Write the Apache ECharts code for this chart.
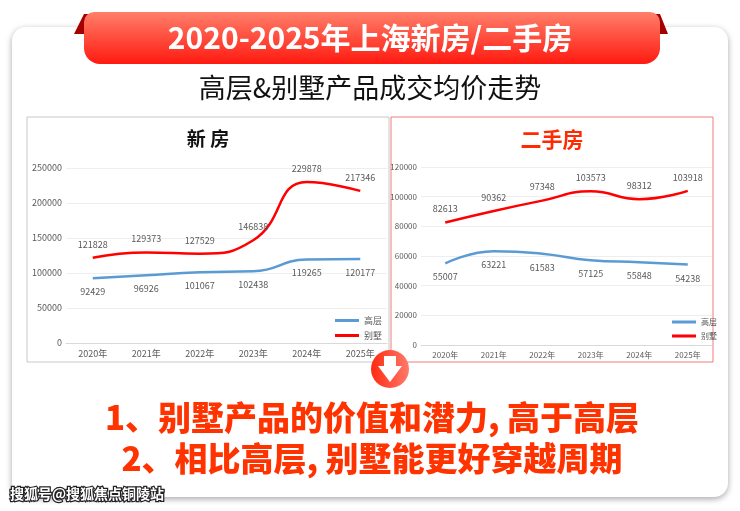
<!DOCTYPE html>
<html><head><meta charset="utf-8">
<script src="https://cdn.jsdelivr.net/npm/echarts@6/dist/echarts.min.js"></script>
<style>html,body{margin:0;padding:0;background:#fff}#c{width:740px;height:511px}</style>
</head><body><div id="c"></div>
<script>
const years = ['2020年','2021年','2022年','2023年','2024年','2025年'];
const newHigh = [92429,96926,101067,102438,119265,120177];
const newVilla = [121828,129373,127529,146838,229878,217346];
const oldHigh = [55007,63221,61583,57125,55848,54238];
const oldVilla = [82613,90362,97348,103573,98312,103918];
const seriesNames = ['高层','别墅'];
const F = 'Noto Sans CJK SC';
const chart = echarts.init(document.getElementById('c'));
const lbl = (pos, off) => ({show:true, position:pos, distance:off, fontSize:9, color:'#595959', fontFamily:F});
const ln = (name, xi, data, color, pos) => ({name, type:'line', xAxisIndex:xi, yAxisIndex:xi, data, smooth:true, symbol:'circle', symbolSize:0.1, showSymbol:true, lineStyle:{width:2.5,color}, itemStyle:{color}, label:lbl(pos,9)});
const plain = v => String(v);
chart.setOption({
  animation:false,
  textStyle:{fontFamily:F},
  graphic:[
    {type:'rect', shape:{x:12,y:27,width:716,height:470,r:14}, style:{fill:'#fff', shadowBlur:6, shadowColor:'rgba(0,0,0,0.35)', shadowOffsetY:2}, z:-10},
    {type:'polygon', shape:{points:[[74,34],[84,14],[96,14],[103,34]]}, style:{fill:'#a30000'}, z:-5},
    {type:'polygon', shape:{points:[[640,34],[647,14],[660,14],[668,34]]}, style:{fill:'#a30000'}, z:-5},
    {type:'rect', shape:{x:84,y:12,width:576,height:52,r:[10,10,16,16]}, style:{fill:new echarts.graphic.LinearGradient(0,0,0,1,[{offset:0,color:'#ff7f6a'},{offset:1,color:'#ff1a10'}])}, z:-4},
    {type:'text', x:370, y:38, style:{text:'2020-2025年上海新房/二手房', fill:'#fff', font:'bold 30px "Noto Sans CJK SC"', align:'center', verticalAlign:'middle'}},
    {type:'text', x:370, y:88, style:{text:'高层&别墅产品成交均价走势', fill:'#111', font:'27px "Noto Sans CJK SC"', align:'center', verticalAlign:'middle'}},
    {type:'rect', shape:{x:27,y:117,width:362,height:245}, style:{fill:'none', stroke:'#c8c8c8', lineWidth:1}, z:-3},
    {type:'rect', shape:{x:391,y:117,width:322,height:245}, style:{fill:'none', stroke:'#f07a7a', lineWidth:1}, z:-3},
    {type:'text', x:208, y:139, style:{text:'新 房', fill:'#111', font:'bold 19px "Noto Sans CJK SC"', align:'center', verticalAlign:'middle'}},
    {type:'text', x:552, y:139, style:{text:'二手房', fill:'#ff2a00', font:'bold 21px "Noto Sans CJK SC"', align:'center', verticalAlign:'middle'}},
    {type:'circle', shape:{cx:390,cy:369,r:19}, style:{fill:new echarts.graphic.LinearGradient(0,0,1,0,[{offset:0,color:'#ff2a10'},{offset:1,color:'#ff7a6a'}])}, z:10},
    {type:'polygon', shape:{points:[[384,356],[396,356],[396,366],[402,366],[390,382],[378,366],[384,366]]}, style:{fill:'#fff'}, z:11},
    {type:'text', x:372, y:417, style:{text:'1、别墅产品的价值和潜力, 高于高层', fill:'#ff3300', font:'900 33px "Noto Sans CJK SC"', align:'center', verticalAlign:'middle'}},
    {type:'text', x:372, y:458, style:{text:'2、相比高层, 别墅能更好穿越周期', fill:'#ff3300', font:'900 33px "Noto Sans CJK SC"', align:'center', verticalAlign:'middle'}},
    {type:'text', x:10, y:494, style:{text:'搜狐号@搜狐焦点铜陵站', fill:'#fff', stroke:'#222', lineWidth:2.5, font:'bold 14px "Noto Sans CJK SC"', verticalAlign:'middle'}, z:20}
  ],
  legend:[
    {data:seriesNames, orient:'vertical', left:330, top:311, itemWidth:24, itemHeight:3, itemGap:6, icon:'rect', textStyle:{fontSize:9,color:'#595959'}},
    {data:[{name:'高层 '},{name:'别墅 '}], orient:'vertical', left:667, top:313, itemWidth:24, itemHeight:3, itemGap:6, icon:'rect', textStyle:{fontSize:8,color:'#595959'}}
  ],
  grid:[
    {left:66, right:353, top:168, height:175},
    {left:421, right:28, top:167, height:178}
  ],
  xAxis:[
    {gridIndex:0, type:'category', data:years, axisLine:{lineStyle:{color:'#d9d9d9'}}, axisTick:{show:false}, axisLabel:{fontSize:9,color:'#595959',margin:6}},
    {gridIndex:1, type:'category', data:years, axisLine:{lineStyle:{color:'#d9d9d9'}}, axisTick:{show:false}, axisLabel:{fontSize:8,color:'#595959',margin:6}}
  ],
  yAxis:[
    {gridIndex:0, type:'value', min:0, max:250000, interval:50000, axisLabel:{fontSize:9,color:'#595959',margin:4,formatter:plain}, splitLine:{lineStyle:{color:'#eeeeee'}}},
    {gridIndex:1, type:'value', min:0, max:120000, interval:20000, axisLabel:{fontSize:8,color:'#595959',margin:4,formatter:plain}, splitLine:{lineStyle:{color:'#eeeeee'}}}
  ],
  series:[
    ln('高层',0,newHigh,'#5b9bd5','bottom'),
    ln('别墅',0,newVilla,'#ff0000','top'),
    ln('高层 ',1,oldHigh,'#5b9bd5','bottom'),
    ln('别墅 ',1,oldVilla,'#ff0000','top')
  ]
});
</script></body></html>
